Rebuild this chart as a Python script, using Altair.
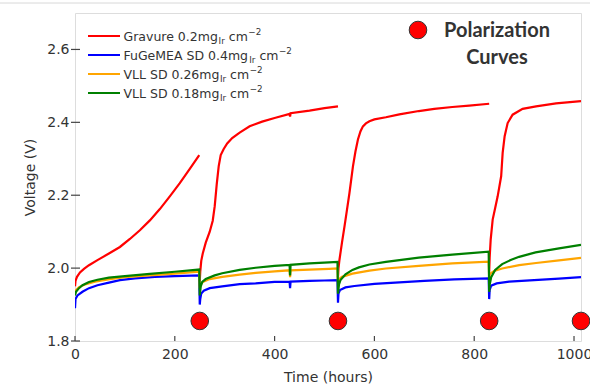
import altair as alt
import pandas as pd

# ---------------- data ----------------
red_t1 = [0, 1, 4, 10, 18, 28, 45, 68, 90, 110, 130, 150, 170, 190, 210, 230, 249]
red_v1 = [1.950, 1.965, 1.976, 1.988, 1.998, 2.008, 2.022, 2.040, 2.058, 2.080, 2.104,
          2.131, 2.162, 2.197, 2.233, 2.272, 2.310]
red_t2 = [250, 251, 253, 256, 262, 270, 276, 280, 284, 288, 292, 298, 305, 315, 330,
          350, 375, 400, 430, 431, 432, 470, 500, 527]
red_v2 = [1.965, 1.990, 2.020, 2.040, 2.070, 2.100, 2.130, 2.170, 2.230, 2.280, 2.310,
          2.327, 2.342, 2.357, 2.372, 2.389, 2.402, 2.412, 2.423, 2.416, 2.425, 2.432,
          2.439, 2.444]
red_t3 = [527, 528, 530, 535, 540, 545, 550, 557, 562, 567, 572, 577, 583, 590, 600,
          623, 650, 689, 720, 756, 790, 830]
red_v3 = [1.975, 2.000, 2.023, 2.070, 2.114, 2.160, 2.206, 2.279, 2.320, 2.353, 2.375,
          2.389, 2.397, 2.403, 2.408, 2.414, 2.422, 2.431, 2.437, 2.442, 2.446, 2.451]
red_t4 = [830, 831, 833, 837, 842, 847, 854, 857, 861, 867, 877, 897, 924, 964, 1014]
red_v4 = [1.990, 2.030, 2.078, 2.133, 2.165, 2.197, 2.252, 2.316, 2.362, 2.398, 2.421,
          2.437, 2.444, 2.452, 2.458]

blue_t = [0, 1, 5, 15, 28, 45, 68, 90, 120, 160, 200, 249,
          250, 251, 253, 258, 270, 295, 330, 362, 400, 430, 431, 432, 470, 500, 526,
          527, 528, 531, 542, 560, 600, 650, 700, 760, 829,
          830, 831, 834, 845, 870, 920, 970, 1014]
blue_v = [1.890, 1.915, 1.925, 1.935, 1.945, 1.953, 1.960, 1.967, 1.972, 1.976, 1.978, 1.980,
          1.900, 1.915, 1.930, 1.938, 1.945, 1.950, 1.956, 1.958, 1.962, 1.963, 1.945, 1.963,
          1.965, 1.966, 1.967,
          1.905, 1.930, 1.940, 1.947, 1.951, 1.957, 1.961, 1.965, 1.969, 1.972,
          1.915, 1.940, 1.952, 1.958, 1.963, 1.967, 1.971, 1.975]

orange_t = [0, 2, 8, 20, 40, 70, 100, 150, 200, 249,
            250, 252, 256, 270, 295, 330, 362, 400, 430, 431, 432, 470, 509, 526,
            527, 529, 535, 556, 590, 623, 689, 756, 829,
            830, 832, 840, 856, 890, 924, 970, 1014]
orange_v = [1.930, 1.940, 1.948, 1.955, 1.963, 1.970, 1.975, 1.980, 1.985, 1.990,
            1.945, 1.955, 1.962, 1.970, 1.976, 1.982, 1.987, 1.991, 1.994, 1.975, 1.994,
            1.996, 1.998, 1.999,
            1.960, 1.970, 1.976, 1.985, 1.993, 1.999, 2.006, 2.013, 2.018,
            1.975, 1.985, 1.992, 1.999, 2.008, 2.014, 2.021, 2.028]

green_t = [0, 2, 8, 15, 28, 45, 68, 100, 150, 200, 249,
           250, 252, 255, 262, 280, 295, 330, 362, 400, 430, 431, 432, 470, 509, 526,
           527, 529, 532, 542, 556, 569, 590, 623, 689, 756, 829,
           830, 831, 834, 842, 856, 873, 890, 923, 970, 1014]
green_v = [1.925, 1.935, 1.945, 1.953, 1.962, 1.968, 1.974, 1.978, 1.984, 1.990, 1.996,
           1.925, 1.950, 1.962, 1.970, 1.980, 1.986, 1.995, 2.001, 2.006, 2.009, 1.980, 2.009,
           2.013, 2.016, 2.017,
           1.930, 1.955, 1.967, 1.983, 1.995, 2.002, 2.010, 2.017, 2.029, 2.037, 2.045,
           1.935, 1.955, 1.975, 1.995, 2.011, 2.022, 2.031, 2.043, 2.054, 2.064]

polar_t = [250, 527, 830, 1014]
polar_v = [1.855, 1.855, 1.855, 1.855]

x_ticks = [0, 200, 400, 600, 800, 1000]
y_ticks = [1.8, 2.0, 2.2, 2.4, 2.6]

series = ["Gravure", "FuGeMEA", "VLL026", "VLL018"]
colors = ["#ff0000", "#0000ff", "#ffa500", "#008000"]
legend_main = ["Gravure 0.2mg", "FuGeMEA SD 0.4mg", "VLL SD 0.26mg", "VLL SD 0.18mg"]

# ---------------- build tables ----------------
rows = []
for k, (ts, vs) in enumerate([(red_t1, red_v1), (red_t2, red_v2), (red_t3, red_v3), (red_t4, red_v4)]):
    for t, v in zip(ts, vs):
        rows.append({"s": "Gravure", "seg": k, "t": t, "v": v})
for name, ts, vs in [("FuGeMEA", blue_t, blue_v), ("VLL026", orange_t, orange_v),
                     ("VLL018", green_t, green_v)]:
    for t, v in zip(ts, vs):
        rows.append({"s": name, "seg": 0, "t": t, "v": v})
df = pd.DataFrame(rows)
df_pc = pd.DataFrame({"t": polar_t, "v": polar_v})
df_xt = pd.DataFrame({"t": x_ticks})
df_yt = pd.DataFrame({"v": y_ticks})
df_one = pd.DataFrame({"k": [0]})

W, H = 506, 328
FONT = "DejaVu Sans"
TXT = "#333333"
FRAME = "#444444"

xs = alt.Scale(domain=[0, 1014], nice=False, zero=False)
ys = alt.Scale(domain=[1.8, 2.7], nice=False, zero=False)
xaxis = alt.Axis(values=x_ticks, title="Time (hours)", ticks=False, domain=False, grid=False,
                 labelFont=FONT, labelFontSize=14, labelColor=TXT, labelPadding=6,
                 labelFlush=False, labelOverlap=False, format="d",
                 titleFont=FONT, titleFontSize=14, titleFontWeight="normal", titleColor=TXT,
                 titlePadding=9)
yaxis = alt.Axis(values=y_ticks, title="Voltage (V)", ticks=False, domain=False, grid=False,
                 labelFont=FONT, labelFontSize=14, labelColor=TXT, labelPadding=6,
                 labelFlush=False, labelOverlap=False, format=".1f",
                 titleFont=FONT, titleFontSize=14, titleFontWeight="normal", titleColor=TXT,
                 titlePadding=9)
X = alt.X("t:Q", scale=xs, axis=xaxis)
Y = alt.Y("v:Q", scale=ys, axis=yaxis)

layers = []
for name, col in zip(series, colors):
    layers.append(
        alt.Chart(df).transform_filter(alt.datum.s == name)
        .mark_line(color=col, strokeWidth=2.2, clip=True)
        .encode(x=X, y=Y, detail="seg:N", order="t:Q")
    )

# inward x ticks, in-out y ticks
layers.append(alt.Chart(df_xt).mark_rule(color=FRAME, strokeWidth=1.2).encode(
    x=X, y=alt.value(H), y2=alt.value(H - 5)))
layers.append(alt.Chart(df_yt).mark_rule(color=FRAME, strokeWidth=1.2).encode(
    y=Y, x=alt.value(-4), x2=alt.value(5)))

# polarization curve markers
layers.append(alt.Chart(df_pc).mark_point(shape="circle", filled=True, fill="#ff0000",
                                          stroke="#333333", strokeWidth=1, size=310, opacity=1)
              .encode(x=X, y=Y))

# annotation "Polarization Curves"
layers.append(alt.Chart(df_one).mark_point(shape="circle", filled=True, fill="#ff0000",
                                           stroke="#333333", strokeWidth=1, size=310, opacity=1)
              .encode(x=alt.value(343), y=alt.value(17)))
for txt, yy in [("Polarization", 18), ("Curves", 45)]:
    layers.append(alt.Chart(df_one).mark_text(text=txt, font="Lato", fontWeight="bold",
                                              fontSize=20, color=TXT, align="center",
                                              baseline="middle")
                  .encode(x=alt.value(422), y=alt.value(yy)))

# custom legend with sub/superscripts
wtab = {' ': 0.318, '.': 0.318, 'G': 0.775, 'r': 0.411, 'a': 0.613, 'v': 0.592, 'u': 0.634,
        'e': 0.615, 'm': 0.974, 'g': 0.635, 'F': 0.575, 'M': 0.863, 'E': 0.632, 'A': 0.684,
        'S': 0.635, 'D': 0.770, 'V': 0.684, 'L': 0.557, 'I': 0.295, 'c': 0.550, '\u2212': 0.838}
def tw(s, fs):
    return sum(wtab.get(ch, 0.636) for ch in s) * fs

FS = 12.5
SS = FS * 0.7
row_y = [23, 42, 61, 80]
for main, col, ry in zip(legend_main, colors, row_y):
    layers.append(alt.Chart(df_one).mark_rule(color=col, strokeWidth=2).encode(
        x=alt.value(13), x2=alt.value(45), y=alt.value(ry)))
    base = ry + 4.6
    x0 = 48.5
    pieces = [(main, FS, 0, 0), ("Ir", SS, 3, 0.5), ("cm", FS, 0, 0.318 * FS), ("\u22122", SS, -5.5, 0.5)]
    for txt, fs, dy, gap in pieces:
        x0 += gap
        layers.append(alt.Chart(df_one).mark_text(text=txt, font=FONT, fontSize=fs, color=TXT,
                                                  align="left", baseline="alphabetic")
                      .encode(x=alt.value(x0), y=alt.value(base + dy)))
        x0 += tw(txt, fs)

# faint line at top of the picture
layers.append(alt.Chart(df_one).mark_rule(color="#d8d8d8", strokeWidth=1).encode(
    x=alt.value(-75), x2=alt.value(515), y=alt.value(-10)))

chart = alt.layer(*layers).properties(
    width=W, height=H,
    autosize=alt.AutoSizeParams(type="none"),
    padding={"left": 75, "top": 13, "right": 9, "bottom": 46},
).configure_view(stroke=FRAME, strokeWidth=1.5).configure(background="white")

chart.save("out.html", embed_options={"renderer": "svg", "actions": False})
